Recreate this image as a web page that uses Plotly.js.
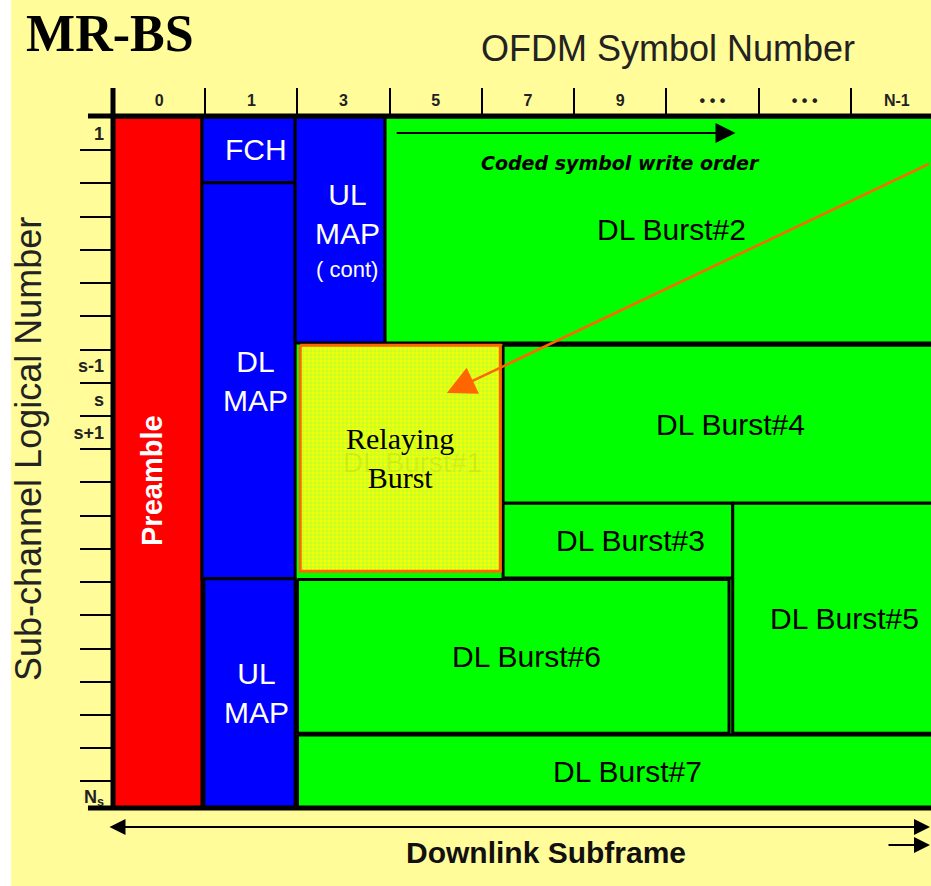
<!DOCTYPE html>
<html>
<head>
<meta charset="utf-8">
<script src="https://cdn.plot.ly/plotly-3.0.1.min.js"></script>
<style>
  html, body { margin: 0; padding: 0; background: #ffffff; }
  #chart { width: 931px; height: 886px; }
</style>
</head>
<body>
<div id="chart"></div>
<script>
// ---- data (symbol columns on x, sub-channel rows on y) ----
const symbolTickText = ['0', '1', '3', '5', '7', '9', '\u2022 \u2022 \u2022', '\u2022 \u2022 \u2022', 'N-1'];
const symbolTickPos = [0.5, 1.5, 2.5, 3.5, 4.5, 5.5, 6.5, 7.5, 8.5];
const symbolBoundaries = [1, 2, 3, 4, 5, 6, 7, 8];
const subchannelTickText = ['1', 's-1', 's', 's+1', 'N<sub>s</sub>'];
const subchannelTickPos = [0.5, 7.5, 8.5, 9.5, 20.45];
const subchannelRows = [1, 2, 3, 4, 5, 6, 7, 8, 9, 10, 11, 12, 13, 14, 15, 16, 17, 18, 19, 20];

const blockNames = ['Preamble', 'FCH', 'DL MAP', 'UL MAP', 'UL MAP (cont)', 'DL Burst#2',
                    'DL Burst#4', 'DL Burst#3', 'DL Burst#5', 'DL Burst#6', 'DL Burst#7', 'Relaying Burst'];
const blockKind  = ['preamble', 'control', 'control', 'control', 'control', 'burst',
                    'burst', 'burst', 'burst', 'burst', 'burst', 'relay'];
const symStart = [0.00, 0.965, 0.965, 0.985, 1.975, 2.95, 4.23, 4.23, 6.72, 2.00, 2.00, 2.03];
const symEnd   = [0.965, 1.975, 1.975, 1.975, 2.95, 9.00, 9.00, 6.72, 9.00, 6.68, 9.00, 4.20];
const subStart = [0.00, 0.00, 1.98, 13.90, 0.00, 0.00, 6.87, 11.63, 11.63, 13.92, 18.60, 6.87];
const subEnd   = [20.8, 1.98, 13.90, 20.8, 6.80, 6.80, 11.63, 13.88, 18.55, 18.55, 20.8, 13.67];
const blockLabels = ['Preamble', 'FCH', 'DL<br>MAP', 'UL<br>MAP', 'UL<br>MAP', 'DL Burst#2',
                     'DL Burst#4', 'DL Burst#3', 'DL Burst#5', 'DL Burst#6', 'DL Burst#7', 'Relaying<br>Burst'];

// ---- styles ----
const X_MAX = 8.87, Y_MAX = 20.8;
const SANS = 'Arial, "Liberation Sans", sans-serif';
const SERIF = '"Times New Roman", "Liberation Serif", serif';
const kindFill = { preamble: '#FF0000', control: '#0000FF', burst: '#00FF00', relay: '#EEFF00' };

const traces = blockNames.map((name, i) => {
  const t = {
    type: 'scatter', mode: 'lines', name: name, showlegend: false, hoverinfo: 'name',
    x: [symStart[i], symEnd[i], symEnd[i], symStart[i], symStart[i]],
    y: [subStart[i], subStart[i], subEnd[i], subEnd[i], subStart[i]],
    fill: 'toself', fillcolor: kindFill[blockKind[i]],
    line: { color: '#000000', width: 3 }
  };
  if (blockKind[i] === 'relay') {
    t.line = { color: '#FF6600', width: 3 };
    t.fillpattern = { shape: '+', bgcolor: '#F8FF00', fgcolor: '#A8FF40', size: 4, solidity: 0.35 };
  }
  return t;
});

const annotations = [];
blockNames.forEach((name, i) => {
  const cx = (symStart[i] + Math.min(symEnd[i], X_MAX)) / 2;
  const cy = (subStart[i] + subEnd[i]) / 2;
  const kind = blockKind[i];
  const a = { x: cx, y: cy, xref: 'x', yref: 'y', text: blockLabels[i], showarrow: false,
              font: { family: SANS, size: 30, color: '#000000' } };
  if (kind === 'burst') { a.xshift = 13; }
  if (kind === 'control') { a.xshift = 7; a.font = { family: SANS, size: 30, color: '#FFFFFF' }; }
  if (kind === 'preamble') {
    a.textangle = -90; a.xshift = -6; a.yshift = -18;
    a.font = { family: SANS, size: 29, color: '#FFFFFF', weight: 'bold' };
  }
  if (name === 'UL MAP (cont)') { a.yshift = 16; }
  if (kind === 'relay') {
    annotations.push({ x: cx, y: cy, xref: 'x', yref: 'y', text: 'DL Burst#1', showarrow: false,
      xshift: 12, yshift: -4, font: { family: SANS, size: 28, color: 'rgba(120,120,0,0.13)' } });
    a.font = { family: SERIF, size: 30, color: '#000000' };
  }
  annotations.push(a);
  if (name === 'UL MAP (cont)') {
    annotations.push({ x: cx, y: cy, xref: 'x', yref: 'y', text: '( cont)', showarrow: false,
      xshift: 7, yshift: -40, font: { family: SANS, size: 22, color: '#FFFFFF' } });
  }
});

// write-order arrow and caption
annotations.push({ x: 6.75, y: 0.48, xref: 'x', yref: 'y', ax: 3.06, ay: 0.48, axref: 'x', ayref: 'y',
  text: '', showarrow: true, arrowhead: 2, arrowsize: 2, arrowwidth: 2, arrowcolor: '#000000', standoff: 0 });
annotations.push({ x: 5.5, y: 1.39, xref: 'x', yref: 'y', text: '<b><i>Coded symbol write order</i></b>',
  showarrow: false, font: { family: '"DejaVu Sans", Verdana, sans-serif', size: 19, color: '#000000' } });
// orange pointer arrow to relaying burst
annotations.push({ x: 3.62, y: 8.31, xref: 'x', yref: 'y', ax: 8.865, ay: 1.39, axref: 'x', ayref: 'y',
  text: '', showarrow: true, arrowhead: 2, arrowsize: 2.3, arrowwidth: 2.5, arrowcolor: '#FF6600', standoff: 0 });
// axis captions
annotations.push({ x: 0.678, y: 1.0998, xref: 'paper', yref: 'paper', xanchor: 'center', yanchor: 'middle',
  text: 'OFDM Symbol Number', showarrow: false, font: { family: SANS, size: 36, color: '#222222' } });
annotations.push({ x: -0.1039, y: 0.5195, xref: 'paper', yref: 'paper', xanchor: 'center', yanchor: 'middle',
  text: 'Sub-channel Logical Number', textangle: -90, showarrow: false, font: { family: SANS, size: 36, color: '#222222' } });
annotations.push({ x: 0.529, y: -0.0637, xref: 'paper', yref: 'paper', xanchor: 'center', yanchor: 'middle',
  text: '<b>Downlink Subframe</b>', showarrow: false, font: { family: SANS, size: 30, color: '#111111' } });
// subframe span arrows
annotations.push({ x: 1.0, y: -0.0275, xref: 'paper', yref: 'paper', ax: -823, ay: 0, axref: 'pixel', ayref: 'pixel',
  text: '', showarrow: true, arrowside: 'end+start', arrowhead: 2, startarrowhead: 2, arrowsize: 1.6,
  startarrowsize: 1.6, arrowwidth: 2, arrowcolor: '#000000', standoff: 0, startstandoff: 0 });
annotations.push({ x: 1.0, y: -0.0535, xref: 'paper', yref: 'paper', ax: -44, ay: 0, axref: 'pixel', ayref: 'pixel',
  text: '', showarrow: true, arrowhead: 2, arrowsize: 1.6, arrowwidth: 2, arrowcolor: '#000000', standoff: 0 });

const shapes = [
  // white strip at the left edge of the picture
  { type: 'rect', xref: 'paper', yref: 'paper', x0: -0.1381, x1: -0.1247, y0: -0.2, y1: 1.3,
    fillcolor: '#FFFFFF', line: { width: 0 }, layer: 'below' },
  // frame: header line, left axis line, bottom line
  { type: 'line', xref: 'paper', yref: 'paper', x0: -0.0306, x1: 1.01, y0: 1.0014, y1: 1.0014,
    line: { color: '#000000', width: 5 }, layer: 'above' },
  { type: 'line', xref: 'paper', yref: 'paper', x0: 0.0, x1: 0.0, y0: 1.042, y1: -0.003,
    line: { color: '#000000', width: 5 }, layer: 'above' },
  { type: 'line', xref: 'paper', yref: 'paper', x0: -0.0306, x1: 1.01, y0: 0.0, y1: 0.0,
    line: { color: '#000000', width: 5 }, layer: 'above' }
];

const layout = {
  width: 931, height: 886,
  margin: { l: 113, r: 0, t: 117, b: 78, pad: 0 },
  paper_bgcolor: '#FFFC99',
  plot_bgcolor: '#00FF00',
  showlegend: false,
  title: { text: '<b>MR-BS</b>', x: 0.118, y: 0.963, xanchor: 'center', yanchor: 'middle', xref: 'container', yref: 'container',
           font: { family: SERIF, size: 52, color: '#000000' } },
  xaxis: {
    range: [0, X_MAX], side: 'top', showgrid: false, zeroline: false, showline: false, fixedrange: true,
    tickmode: 'array', tickvals: symbolTickPos, ticktext: symbolTickText, ticks: '', ticklabelstandoff: 7,
    tickfont: { family: SANS, size: 16, color: '#222222', weight: 'bold' },
    minor: { tickmode: 'array', tickvals: symbolBoundaries, ticks: 'outside', ticklen: 28, tickwidth: 2, tickcolor: '#000000', showgrid: false }
  },
  yaxis: {
    range: [Y_MAX, 0], showgrid: false, zeroline: false, showline: false, fixedrange: true,
    tickmode: 'array', tickvals: subchannelTickPos, ticktext: subchannelTickText, ticks: '', ticklabelstandoff: 8,
    tickfont: { family: SANS, size: 18, color: '#222222', weight: 'bold' },
    minor: { tickmode: 'array', tickvals: subchannelRows, ticks: 'outside', ticklen: 32, tickwidth: 2, tickcolor: '#000000', showgrid: false }
  },
  shapes: shapes,
  annotations: annotations
};

Plotly.newPlot('chart', traces, layout, { displayModeBar: false, staticPlot: true });
</script>
</body>
</html>
